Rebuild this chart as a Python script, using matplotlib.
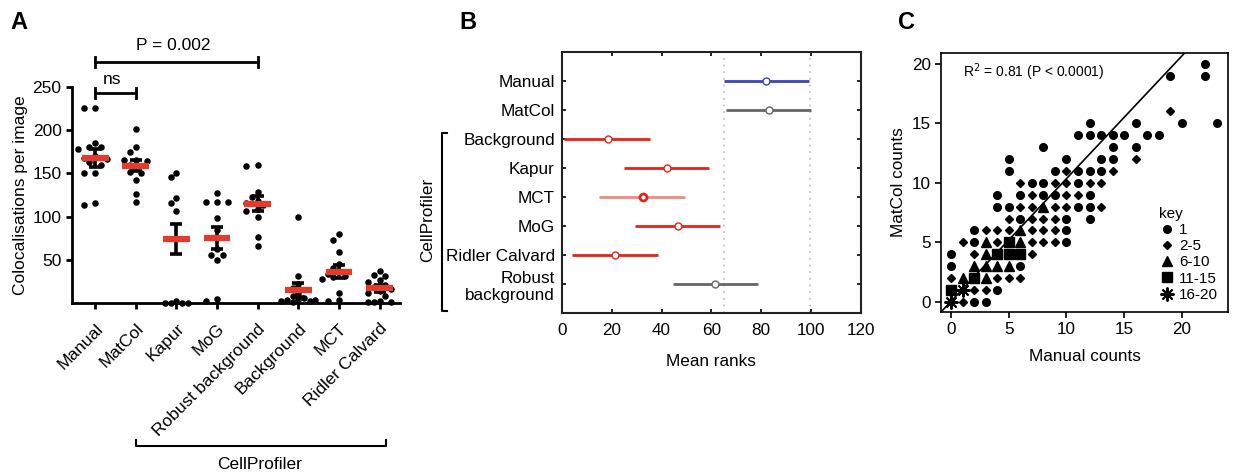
import numpy as np
import matplotlib
matplotlib.use('Agg')
import matplotlib.pyplot as plt
import matplotlib.transforms as mtransforms

plt.rcParams['font.family'] = ['Liberation Sans', 'DejaVu Sans']

# ---------------- panel A data ----------------
a_labels = ['Manual', 'MatCol', 'Kapur', 'MoG', 'Robust background',
            'Background', 'MCT', 'Ridler Calvard']
a_manual = [226, 226, 185, 181, 180, 178, 170, 168, 167, 163, 160, 151, 151, 116, 114]
a_matcol = [201, 180, 175, 166, 165, 164, 160, 156, 152, 150, 142, 126, 117]
a_kapur = [150, 146, 122, 116, 106, 2, 0, 0, 0, 0]
a_mog = [127, 117, 117, 117, 98, 85, 62, 56, 56, 50, 5, 2]
a_robust = [160, 159, 129, 123, 118, 116, 113, 109, 106, 99, 76, 66]
a_background = [100, 31, 22, 17, 12, 8, 6, 4, 3, 3, 2, 2, 1]
a_mct = [80, 73, 59, 45, 41, 37, 34, 31, 30, 28, 12, 3, 2]
a_ridler = [37, 32, 31, 27, 24, 21, 19, 16, 14, 11, 8, 2, 1, 1, 1]
a_mean = [168, 159, 74, 75, 115, 15, 36, 17]
a_sem = [10, 6, 17, 12.5, 8.5, 8, 7.5, 4]

# ---------------- panel B data ----------------
b_labels = ['Manual', 'MatCol', 'Background', 'Kapur', 'MCT', 'MoG',
            'Ridler Calvard', 'Robust\nbackground']
b_mean = [82, 83, 18.5, 42, 32.5, 46.5, 21.5, 61.5]
b_low = [65, 66, 1, 25, 15, 29.5, 4, 44.5]
b_high = [99, 100, 35.5, 59, 49.5, 63.5, 38.5, 78.5]
b_colors = ['#3a44b8', '#666666', '#e3241b', '#e3241b', '#f08a80',
            '#e3241b', '#e3241b', '#666666']
b_ref = [65, 99.5]

# ---------------- panel C data ----------------
c1_x = [2, 3, 4, 0, 6, 0, 2, 10, 2, 10, 6, 10, 12, 4, 5, 11, 12, 4, 6, 8, 9, 12,
        7, 8, 11, 5, 9, 11, 12, 13, 5, 10, 13, 14, 8, 14, 16, 11, 12, 13, 14, 15,
        17, 18, 12, 16, 20, 23, 19, 22, 22]
c1_y = [0, 0, 1, 3, 3, 4, 5, 5, 6, 6, 7, 7, 7, 8, 8, 8, 8, 9, 9, 9, 9, 9,
        10, 10, 10, 11, 11, 11, 11, 11, 12, 12, 12, 12, 13, 13, 13, 14, 14, 14, 14, 14,
        14, 14, 15, 15, 15, 15, 19, 19, 20]
c2_x = [1, 2, 3, 0, 4, 5, 6, 2, 7, 1, 4, 7, 8, 9, 3, 4, 5, 7, 8, 9, 5, 7, 8, 9,
        6, 7, 9, 10, 13, 7, 10, 11, 6, 9, 10, 12, 13, 10, 14, 16, 19]
c2_y = [0, 1, 1, 2, 2, 2, 2, 4, 4, 5, 5, 5, 5, 5, 6, 6, 6, 6, 6, 6, 7, 7, 7, 7,
        8, 8, 8, 8, 8, 9, 9, 9, 10, 10, 10, 10, 10, 11, 11, 12, 16]
c3_x = [1, 3, 2, 3, 4, 5, 3, 3, 6, 6, 8]
c3_y = [2, 2, 3, 3, 3, 3, 4, 5, 5, 6, 8]
c4_x = [0, 2, 4, 5, 6, 5]
c4_y = [1, 2, 4, 4, 4, 5]
c5_x = [0, 1]
c5_y = [0, 1]
fit_slope, fit_icpt = 1.03, 0.05


def swarm(values, step=0.14, nmax=3, min_px=6.5, xpx=40.7, ypx=0.867):
    # simple deterministic beeswarm offsets, capped width
    placed = []
    offs = []
    cands = [0] + [s * i * step for i in range(1, nmax + 1) for s in (-1, 1)]
    for v in values:
        best, best_d = 0, -1
        for c in cands:
            d = min([np.hypot((c - px) * xpx, (v - py) * ypx) for px, py in placed] or [99])
            if d >= min_px:
                best = c
                break
            if d > best_d:
                best, best_d = c, d
        placed.append((best, v))
        offs.append(best)
    return np.array(offs)


fig = plt.figure(figsize=(12.35, 4.75), dpi=100)
fsA = 12.5
fsB = 12.3

# ================= A =================
axA = fig.add_axes([0.0583, 0.3621, 0.2655, 0.4547])
groups = [a_manual, a_matcol, a_kapur, a_mog, a_robust, a_background, a_mct, a_ridler]
for i, vals in enumerate(groups):
    off = swarm(vals)
    axA.scatter(i + off, vals, s=22, color='black', zorder=3, linewidths=0, clip_on=False)
    axA.errorbar(i, a_mean[i], yerr=a_sem[i], color='black', lw=2.6,
                 capsize=4.5, capthick=2.6, zorder=4)
    axA.plot([i - 0.33, i + 0.33], [a_mean[i]] * 2, color='#e53b2c', lw=4.5,
             solid_capstyle='butt', zorder=5)
axA.set_xlim(-0.57, 7.5)
axA.set_ylim(0, 250)
axA.set_yticks([50, 100, 150, 200, 250])
axA.set_xticks(range(len(a_labels)))
axA.set_xticklabels(a_labels, rotation=45, ha='right', rotation_mode='anchor')
for s in ['top', 'right']:
    axA.spines[s].set_visible(False)
for s in ['left', 'bottom']:
    axA.spines[s].set_linewidth(2)
axA.tick_params(width=2, length=4, labelsize=fsA)
axA.tick_params(axis='x', pad=9)
axA.set_ylabel('Colocalisations per image', fontsize=fsA, labelpad=3)
# significance brackets
for (x0, x1, y, txt, tx, ty) in [(0, 1, 243, 'ns', 0.42, 259),
                                 (0, 4, 279, 'P = 0.002', 1.93, 298)]:
    axA.plot([x0, x1], [y, y], color='black', lw=2, clip_on=False)
    axA.plot([x0, x0], [y - 6, y + 6], color='black', lw=2, clip_on=False)
    axA.plot([x1, x1], [y - 6, y + 6], color='black', lw=2, clip_on=False)
    axA.text(tx, ty, txt, ha='center', va='center', fontsize=fsA)
trA = mtransforms.blended_transform_factory(axA.transData, axA.transAxes)
axA.plot([1.0, 1.0, 7.15, 7.15], [-0.635, -0.66, -0.66, -0.635], color='black',
         lw=1.5, transform=trA, clip_on=False)
axA.text(4.05, -0.75, 'CellProfiler', transform=trA, ha='center', va='center',
         fontsize=fsA)
fig.text(0.0081, 0.953, 'A', fontsize=17, fontweight='bold', va='center')

# ================= B =================
axB = fig.add_axes([0.455, 0.341, 0.2421, 0.5495])
ypos = np.arange(len(b_labels))[::-1] + 1
for xv in b_ref:
    axB.axvline(xv, color='#bbbbbb', lw=1.2, ls=(0, (1, 3)), zorder=1)
for i in range(len(b_labels)):
    axB.plot([b_low[i], b_high[i]], [ypos[i]] * 2, color=b_colors[i], lw=2,
             solid_capstyle='butt', zorder=2)
    mec = '#e3241b' if b_labels[i] == 'MCT' else b_colors[i]
    mew = 2 if b_labels[i] == 'MCT' else 1
    axB.plot(b_mean[i], ypos[i], 'o', mfc='white', mec=mec, mew=mew, ms=5, zorder=3)
axB.set_xlim(0, 120)
axB.set_ylim(0, 9)
axB.set_xticks(range(0, 121, 20))
axB.set_yticks(ypos)
axB.set_yticklabels(b_labels)
axB.tick_params(direction='in', top=True, right=True, length=3, width=1.2,
                labelsize=fsB, pad=5)
axB.tick_params(axis='x', pad=7)
for s in axB.spines.values():
    s.set_linewidth(1.5)
    s.set_color('#222222')
axB.set_xlabel('Mean ranks', fontsize=fsB, labelpad=12)
trB = mtransforms.blended_transform_factory(axB.transAxes, axB.transData)
axB.plot([-0.385, -0.401, -0.401, -0.385], [6.2, 6.2, 0.07, 0.07], color='black',
         lw=1.5, transform=trB, clip_on=False)
axB.text(-0.45, 3.2, 'CellProfiler', rotation=90, transform=trB, ha='center',
         va='center', fontsize=fsB)
fig.text(0.372, 0.953, 'B', fontsize=17, fontweight='bold', va='center')

# ================= C =================
axC = fig.add_axes([0.762, 0.3432, 0.2324, 0.5453])
axC.plot(c1_x, c1_y, 'o', color='black', ms=5.5, ls='none', label='1')
axC.plot(c2_x, c2_y, 'D', color='black', ms=4, ls='none', label='2-5')
axC.plot(c3_x, c3_y, '^', color='black', ms=7.5, ls='none', label='6-10')
axC.plot(c4_x, c4_y, 's', color='black', ms=6.5, ls='none', label='11-15')
axC.plot(c5_x, c5_y, marker=(8, 2, 0), color='black', ms=10, mew=1.4, ls='none',
         label='16-20')
xl = np.array([-1, 25])
axC.plot(xl, fit_slope * xl + fit_icpt, color='black', lw=1.2)
axC.set_xlim(-0.86, 24)
axC.set_ylim(-0.84, 20.9)
axC.set_xticks([0, 5, 10, 15, 20])
axC.set_yticks([0, 5, 10, 15, 20])
axC.tick_params(direction='out', length=4, width=1.2, labelsize=fsB)
for s in axC.spines.values():
    s.set_linewidth(1.2)
axC.set_xlabel('Manual counts', fontsize=fsB, labelpad=8)
axC.set_ylabel('MatCol counts', fontsize=fsB, labelpad=4)
axC.text(1.0, 19.3, 'R$^2$ = 0.81 (P < 0.0001)', fontsize=10, va='center')
axC.legend(title='key', loc='lower right', frameon=False, fontsize=11,
           title_fontsize=11, labelspacing=0.15, handletextpad=0.3,
           handlelength=1.0, borderaxespad=0.25, alignment='left')
fig.text(0.727, 0.953, 'C', fontsize=17, fontweight='bold', va='center')

fig.savefig('out.png', dpi=100)
